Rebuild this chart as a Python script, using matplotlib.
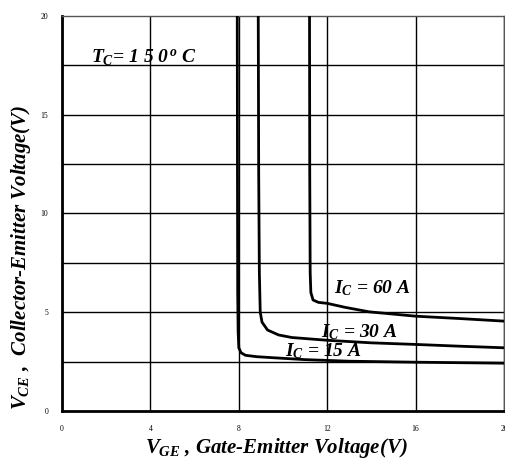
import matplotlib
matplotlib.use("Agg")
import matplotlib.pyplot as plt

# I_C = 15 A
vge_15 = [7.93, 7.94, 7.95, 7.97, 8.0, 8.1, 8.3, 8.8, 9.5, 11.0, 13.0, 16.0, 20.0]
vce_15 = [20.0, 12.0, 6.0, 4.0, 3.2, 2.95, 2.82, 2.75, 2.7, 2.6, 2.52, 2.47, 2.42]
# I_C = 30 A
vge_30 = [8.88, 8.9, 8.93, 8.97, 9.05, 9.3, 9.8, 10.4, 12.0, 14.0, 16.0, 18.0, 20.0]
vce_30 = [20.0, 12.0, 7.0, 5.0, 4.5, 4.1, 3.85, 3.72, 3.58, 3.45, 3.37, 3.28, 3.2]
# I_C = 60 A
vge_60 = [11.2, 11.21, 11.23, 11.26, 11.36, 11.6, 12.0, 12.8, 13.9, 16.0, 18.0, 20.0]
vce_60 = [20.0, 12.0, 7.0, 6.0, 5.62, 5.5, 5.45, 5.25, 5.02, 4.8, 4.68, 4.55]

xticks = [0, 4, 8, 12, 16, 20]
yticks = [0, 5, 10, 15, 20]

serif = ["Liberation Serif", "DejaVu Serif"]
plt.rcParams["mathtext.fontset"] = "custom"
plt.rcParams["mathtext.it"] = "Liberation Serif:italic:bold"
plt.rcParams["mathtext.rm"] = "Liberation Serif:bold"
plt.rcParams["mathtext.bf"] = "Liberation Serif:bold"

fig = plt.figure(figsize=(5.05, 4.61), dpi=100)
ax = fig.add_axes([0.1228, 0.1085, 0.8752, 0.8568])

ax.set_xlim(0, 20)
ax.set_ylim(0, 20)
for x in xticks:
    ax.axvline(x, color="black", lw=1.0, zorder=1)
for y in [2.5, 5, 7.5, 10, 12.5, 15, 17.5]:
    ax.axhline(y, color="black", lw=1.0, zorder=1)

ax.plot(vge_15, vce_15, color="black", lw=2.0, zorder=3)
ax.plot(vge_30, vce_30, color="black", lw=2.0, zorder=3)
ax.plot(vge_60, vce_60, color="black", lw=2.0, zorder=3)

ax.set_xticks(xticks)
ax.set_yticks(yticks)
ax.set_xticklabels([str(t) for t in xticks], fontsize=5.5, family=serif)
ax.set_yticklabels([str(t) for t in yticks], fontsize=5.5, family=serif)
ax.tick_params(length=0, pad=10)

for s in ["left", "bottom"]:
    ax.spines[s].set_linewidth(2.0)
for s in ["top", "right"]:
    ax.spines[s].set_linewidth(1.0)
    ax.spines[s].set_color("#555555")

lab = dict(family=serif, fontsize=15, fontweight="bold", style="italic")
ax.set_xlabel(r"$V_{GE}$ , Gate-Emitter Voltage(V)", **lab)
ax.set_ylabel(r"$V_{CE}$ ,  Collector-Emitter Voltage(V)", **lab)
ax.xaxis.set_label_coords(0.485, -0.064)
ax.yaxis.set_label_coords(-0.065, 0.39)

txt = dict(family=serif, fontsize=14, fontweight="bold", style="italic", zorder=4)
ax.text(1.3, 17.9, r"$T_C$= 1 5 0$^{\,o}$ C", va="center", **txt)
ax.text(12.3, 6.2, r"$I_C$ = 60 A", va="center", **txt)
ax.text(11.7, 4.0, r"$I_C$ = 30 A", va="center", **txt)
ax.text(10.1, 3.05, r"$I_C$ = 15 A", va="center", **txt)

fig.savefig("out.png", dpi=100)
